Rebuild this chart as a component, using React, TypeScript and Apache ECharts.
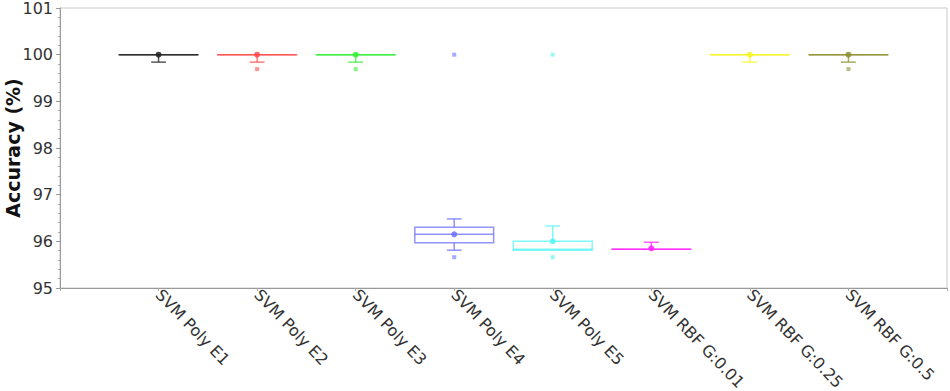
import React, { useEffect, useRef } from "react";
import * as echarts from "echarts";

const categories = [
  "SVM Poly E1",
  "SVM Poly E2",
  "SVM Poly E3",
  "SVM Poly E4",
  "SVM Poly E5",
  "SVM RBF G:0.01",
  "SVM RBF G:0.25",
  "SVM RBF G:0.5",
];
const colors = ["#222222", "#ff4d4d", "#33ee33", "#6f6fff", "#55f5f5", "#ff22ff", "#f5f522", "#8f8f33"];
const whiskerLow = [99.84, 99.84, 99.84, 95.81, 95.81, 95.83, 99.84, 99.84];
const q1 = [100, 100, 100, 95.97, 95.81, 95.83, 100, 100];
const median = [100, 100, 100, 96.15, 95.83, 95.83, 100, 100];
const q3 = [100, 100, 100, 96.3, 96.0, 95.83, 100, 100];
const whiskerHigh = [100, 100, 100, 96.48, 96.33, 95.98, 100, 100];
const means = [100, 100, 100, 96.15, 96.0, 95.85, 100, 100];
// outliers: [category index, value]
const outliers: [number, number][] = [
  [1, 99.69],
  [2, 99.69],
  [3, 100],
  [3, 95.66],
  [4, 100],
  [4, 95.66],
  [7, 99.69],
];

export default function App() {
  const ref = useRef<HTMLDivElement>(null);
  useEffect(() => {
    if (!ref.current) return;
    const chart = echarts.init(ref.current, undefined, { renderer: "svg" });
    const boxData = categories.map((_, i) => [i + 1, whiskerLow[i], q1[i], median[i], q3[i], whiskerHigh[i], means[i], i]);
    const renderItem = (params: any, api: any) => {
      const x = api.value(0);
      const ci = api.value(7);
      const color = colors[ci];
      const halfBox = api.size([0.8, 0])[0] / 2;
      const halfCap = api.size([0.15, 0])[0] / 2;
      const pLow = api.coord([x, api.value(1)]);
      const pQ1 = api.coord([x, api.value(2)]);
      const pMed = api.coord([x, api.value(3)]);
      const pQ3 = api.coord([x, api.value(4)]);
      const pHigh = api.coord([x, api.value(5)]);
      const pMean = api.coord([x, api.value(6)]);
      const cx = pMed[0];
      const ls = { stroke: color, lineWidth: 1.5, opacity: 0.75 };
      const children: any[] = [
        {
          type: "rect",
          shape: { x: cx - halfBox, y: pQ3[1], width: halfBox * 2, height: Math.max(pQ1[1] - pQ3[1], 0.01) },
          style: { ...ls, fill: "none" },
        },
        { type: "line", shape: { x1: cx - halfBox, y1: pMed[1], x2: cx + halfBox, y2: pMed[1] }, style: ls },
        { type: "line", shape: { x1: cx, y1: pQ3[1], x2: cx, y2: pHigh[1] }, style: ls },
        { type: "line", shape: { x1: cx, y1: pQ1[1], x2: cx, y2: pLow[1] }, style: ls },
        { type: "circle", shape: { cx: cx, cy: pMean[1], r: 3 }, style: { fill: color, opacity: 0.85 } },
      ];
      if (Math.abs(pHigh[1] - pQ3[1]) > 0.5) {
        children.push({ type: "line", shape: { x1: cx - halfCap, y1: pHigh[1], x2: cx + halfCap, y2: pHigh[1] }, style: ls });
      }
      if (Math.abs(pLow[1] - pQ1[1]) > 0.5) {
        children.push({ type: "line", shape: { x1: cx - halfCap, y1: pLow[1], x2: cx + halfCap, y2: pLow[1] }, style: ls });
      }
      return { type: "group", children };
    };
    chart.setOption({
      animation: false,
      grid: {
        left: 60,
        right: 3,
        top: 8,
        bottom: 103,
        containLabel: false,
        outerBoundsMode: "none",
        show: true,
        borderColor: "#c8c8c8",
        borderWidth: 1,
      },
      xAxis: {
        type: "value",
        min: 0,
        max: 9,
        interval: 1,
        splitLine: { show: false },
        axisLine: { show: true, lineStyle: { color: "#999999" } },
        axisTick: { show: true, length: 3, lineStyle: { color: "#aaaaaa" } },
        axisLabel: {
          rotate: -46,
          fontFamily: "DejaVu Sans",
          fontSize: 16,
          color: "#333333",
          margin: 4,
          formatter: (v: number) => (v >= 1 && v <= 8 ? categories[v - 1] : ""),
        },
      },
      yAxis: {
        type: "value",
        min: 95,
        max: 101,
        interval: 1,
        name: "Accuracy (%)",
        nameLocation: "middle",
        nameGap: 38,
        nameMoveOverlap: false,
        nameTextStyle: { fontFamily: "DejaVu Sans", fontSize: 19, fontWeight: "bold", color: "#111111" },
        splitLine: { show: false },
        axisLine: { show: true, lineStyle: { color: "#999999" } },
        axisTick: { show: true, length: 4, lineStyle: { color: "#999999" } },
        minorTick: { show: true, splitNumber: 5, length: 2, lineStyle: { color: "#aaaaaa" } },
        axisLabel: { fontFamily: "DejaVu Sans", fontSize: 16, color: "#333333", margin: 7 },
      },
      series: [
        {
          type: "custom",
          renderItem,
          data: boxData,
          encode: { x: 0, y: [1, 5] },
          clip: true,
        },
        {
          type: "scatter",
          symbol: "rect",
          symbolSize: 4,
          data: outliers.map(([i, v]) => ({ value: [i + 1, v], itemStyle: { color: colors[i], opacity: 0.6 } })),
        },
      ],
    });
    return () => chart.dispose();
  }, []);
  return <div ref={ref} style={{ position: "absolute", left: 0, top: 0, width: 950, height: 391 }} />;
}
